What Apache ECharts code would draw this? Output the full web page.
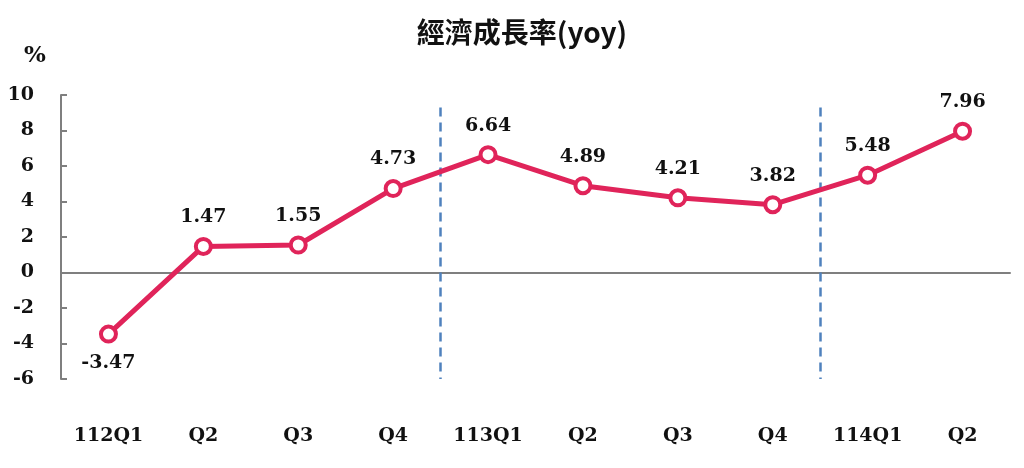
<!DOCTYPE html>
<html>
<head>
<meta charset="utf-8">
<script src="https://cdn.jsdelivr.net/npm/echarts@6/dist/echarts.min.js"></script>
<style>
  html, body { margin: 0; padding: 0; background: #fff; }
  #chart { width: 1024px; height: 468px; }
</style>
</head>
<body>
<div id="chart"></div>
<script>
const categories = ['112Q1', 'Q2', 'Q3', 'Q4', '113Q1', 'Q2', 'Q3', 'Q4', '114Q1', 'Q2'];
const growth = [-3.47, 1.47, 1.55, 4.73, 6.64, 4.89, 4.21, 3.82, 5.48, 7.96];
// year separators sit between Q4 and the next Q1
const dividers = [3.5, 7.5];
const dividerSpan = [9.3, -6];

const numFont = '"DejaVu Serif", "Liberation Serif", serif';
const lineColor = '#e0245a';

const chart = echarts.init(document.getElementById('chart'));

chart.setOption({
  animation: false,
  title: {
    text: '經濟成長率(yoy)',
    left: 517,
    textAlign: 'center',
    top: 13,
    textStyle: { fontFamily: '"Noto Sans CJK TC", serif', fontWeight: 'bold', fontSize: 28, color: '#111' }
  },
  graphic: [{
    type: 'text', left: 24, top: 45,
    style: { text: '%', font: 'bold 23px ' + numFont, fill: '#111' }
  }],
  grid: { left: 61, right: 14, top: 95, bottom: 89 },
  xAxis: [
    {
      type: 'category',
      data: categories,
      axisLine: { onZero: true, lineStyle: { color: '#7f7f7f', width: 2 } },
      axisTick: { inside: true, length: 6, lineStyle: { color: '#7f7f7f', width: 2 } },
      axisLabel: { show: false }
    },
    {
      type: 'category',
      data: categories,
      position: 'bottom',
      axisLine: { show: false },
      axisTick: { show: false },
      axisLabel: { margin: 48, fontFamily: numFont, fontWeight: 'bold', fontSize: 19, color: '#111' }
    },
    {
      type: 'value', min: -0.5, max: 9.5, show: false
    }
  ],
  yAxis: {
    type: 'value',
    min: -6, max: 10, interval: 2,
    splitLine: { show: false },
    axisLine: { show: true, onZero: false, lineStyle: { color: '#7f7f7f', width: 2 } },
    axisTick: { show: true, inside: true, length: 6, lineStyle: { color: '#7f7f7f', width: 2 } },
    axisLabel: { margin: 27, fontFamily: numFont, fontWeight: 'bold', fontSize: 19, color: '#111' }
  },
  series: [
    {
      type: 'line',
      xAxisIndex: 0,
      data: growth.map(v => ({
        value: v,
        label: { position: v < 0 ? 'bottom' : 'top' }
      })),
      symbol: 'circle',
      symbolSize: 15,
      lineStyle: { color: lineColor, width: 5 },
      itemStyle: { color: '#fff', borderColor: lineColor, borderWidth: 4 },
      label: {
        show: true,
        distance: 10,
        fontFamily: numFont, fontWeight: 'bold', fontSize: 19, color: '#111',
        formatter: p => p.value.toFixed(2)
      },
      z: 5
    },
    {
      type: 'line',
      xAxisIndex: 2,
      data: [],
      markLine: {
        silent: true,
        symbol: 'none',
        label: { show: false },
        lineStyle: { color: '#4f81bd', type: [9, 6], width: 2.5 },
        data: dividers.map(x => [
          { coord: [x, dividerSpan[0]] },
          { coord: [x, dividerSpan[1]] }
        ])
      }
    }
  ]
});
</script>
</body>
</html>
